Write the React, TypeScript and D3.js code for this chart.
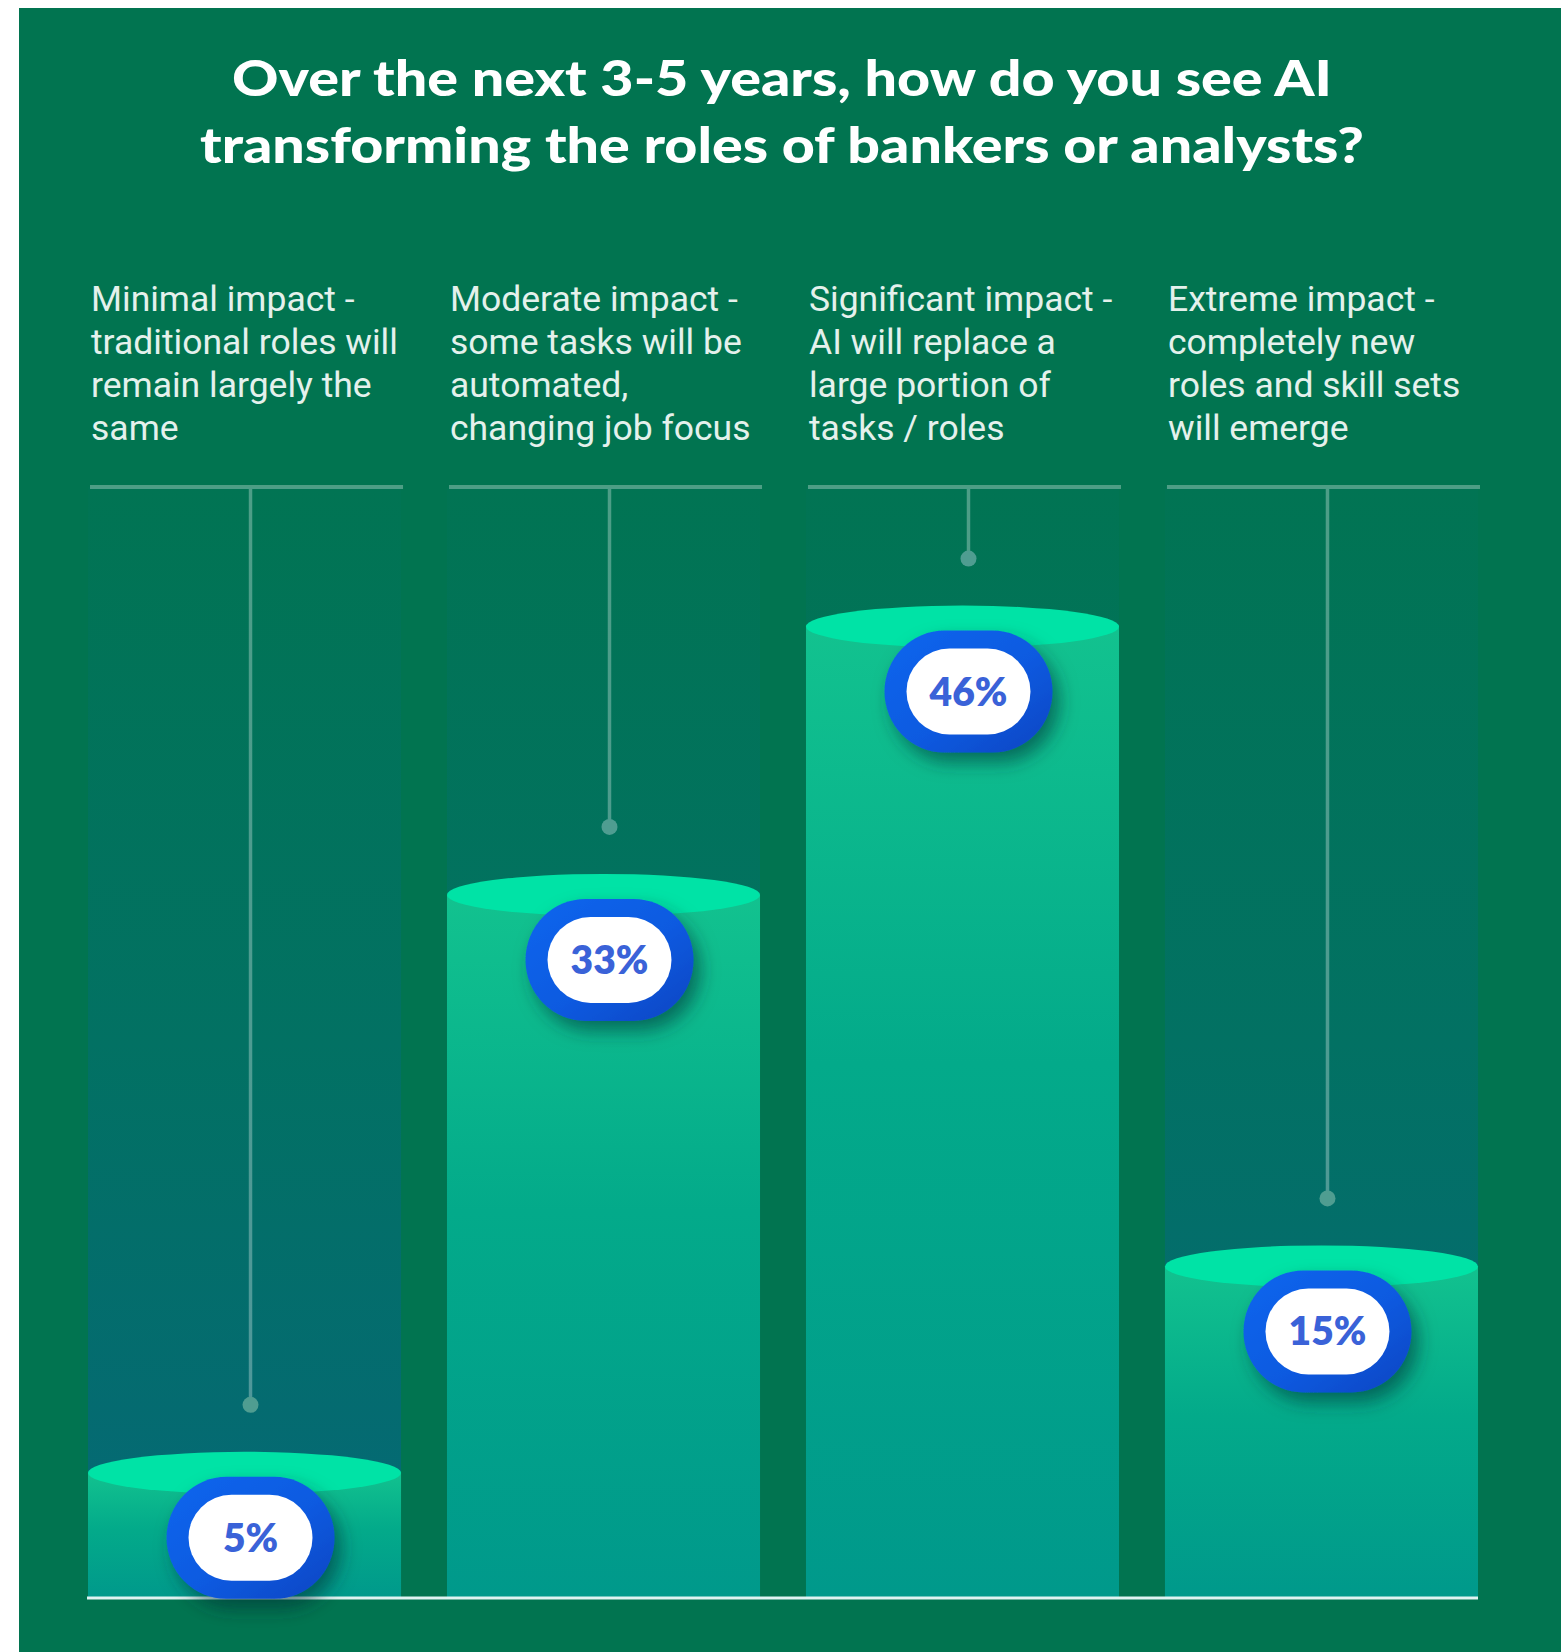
import React from "react";
import * as d3 from "d3";

const titleLines = [
  "Over the next 3-5 years, how do you see AI",
  "transforming the roles of bankers or analysts?",
];
const titleWidths = [1100, 1164];
const categories = ["Minimal impact", "Moderate impact", "Significant impact", "Extreme impact"];
const labelLines = [
  ["Minimal impact -", "traditional roles will", "remain largely the", "same"],
  ["Moderate impact -", "some tasks will be", "automated,", "changing job focus"],
  ["Significant impact -", "AI will replace a", "large portion of", "tasks / roles"],
  ["Extreme impact -", "completely new", "roles and skill sets", "will emerge"],
];
const values = [5, 33, 46, 15];
const valueLabels = values.map((v) => `${v}%`);

const W = 1561;
const H = 1652;
const BASE = 1598;
const DIV_Y = 487;

export default function App() {
  const x = d3.scaleBand<string>().domain(categories).range([88, 1478]).paddingInner(0.128).paddingOuter(0);
  const y = d3.scaleLinear().domain([0, 50]).range([BASE - 22, BASE - 22 - 1032]);
  const bw = x.bandwidth();
  const ry = 21;

  return (
    <svg
      width={W}
      height={H}
      style={{ position: "fixed", left: 0, top: 0, display: "block" }}
      xmlns="http://www.w3.org/2000/svg"
    >
      <defs>
        <linearGradient id="colGrad" x1="0" y1="0" x2="0" y2="1">
          <stop offset="0" stopColor="#017453" />
          <stop offset="0.5" stopColor="#027163" />
          <stop offset="1" stopColor="#056877" />
        </linearGradient>
        <linearGradient id="barGrad" x1="0" y1="0" x2="0" y2="1">
          <stop offset="0" stopColor="#12c28f" />
          <stop offset="0.45" stopColor="#03aa8a" />
          <stop offset="1" stopColor="#00998b" />
        </linearGradient>
        <linearGradient id="blueGrad" x1="0" y1="0" x2="1" y2="1">
          <stop offset="0" stopColor="#1166ee" />
          <stop offset="0.55" stopColor="#0e5ae0" />
          <stop offset="1" stopColor="#0a45c2" />
        </linearGradient>
        <filter id="pillShadow" x="-50%" y="-50%" width="200%" height="200%">
          <feDropShadow dx="7" dy="10" stdDeviation="9" floodColor="#002f35" floodOpacity="0.55" />
        </filter>
      </defs>

      <rect x={0} y={0} width={W} height={H} fill="#ffffff" />
      <rect x={19} y={8} width={W - 19} height={H - 8} fill="#017450" />

      {titleLines.map((t, i) => (
        <text
          key={i}
          x={782}
          y={96 + i * 67}
          textAnchor="middle"
          fill="#ffffff"
          fontFamily="Lato, 'Open Sans', sans-serif"
          fontWeight={900}
          fontSize={50}
          textLength={titleWidths[i]}
          lengthAdjust="spacingAndGlyphs"
        >
          {t}
        </text>
      ))}

      {categories.map((c, i) => {
        const x0 = x(c) as number;
        return (
          <text
            key={c}
            fontFamily="Roboto, 'Noto Sans', sans-serif"
            fontSize={35.5}
            fill="#e4f1ec"
          >
            {labelLines[i].map((l, j) => (
              <tspan key={j} x={x0 + 3} y={311 + j * 43}>
                {l}
              </tspan>
            ))}
          </text>
        );
      })}

      {categories.map((c) => {
        const x0 = x(c) as number;
        return (
          <rect key={c} x={x0} y={DIV_Y} width={bw} height={BASE - DIV_Y} fill="url(#colGrad)" />
        );
      })}

      {categories.map((c, i) => {
        const x0 = x(c) as number;
        const cx = x0 + bw / 2 + 6;
        const top = y(values[i]);
        const dotY = top - ry - 47;
        return (
          <g key={c}>
            <line x1={x0 + 2} x2={x0 + bw + 2} y1={DIV_Y} y2={DIV_Y} stroke="#ffffff" strokeOpacity={0.3} strokeWidth={4} />
            <line x1={cx} x2={cx} y1={DIV_Y + 2} y2={dotY} stroke="#ffffff" strokeOpacity={0.3} strokeWidth={3.5} />
            <circle cx={cx} cy={dotY} r={8} fill="#4f9d91" />
          </g>
        );
      })}

      {categories.map((c, i) => {
        const x0 = x(c) as number;
        const top = y(values[i]);
        return (
          <g key={c}>
            <rect x={x0} y={top} width={bw} height={BASE - top} fill="url(#barGrad)" />
            <ellipse cx={x0 + bw / 2} cy={top} rx={bw / 2} ry={ry} fill="#00e3a6" />
          </g>
        );
      })}

      <line x1={87} x2={1478} y1={BASE} y2={BASE} stroke="#dff3f2" strokeWidth={3} />

      {categories.map((c, i) => {
        const x0 = x(c) as number;
        const cx = x0 + bw / 2 + 6;
        const cy = y(values[i]) + 65;
        return (
          <g key={c} transform={`translate(${cx},${cy})`}>
            <rect x={-84} y={-61} width={168} height={122} rx={60} ry={61} fill="url(#blueGrad)" filter="url(#pillShadow)" />
            <rect x={-62} y={-43} width={124} height={86} rx={43} ry={43} fill="#ffffff" />
            <text
              x={0}
              y={0}
              dy="0.36em"
              textAnchor="middle"
              fill="#3a62d8"
              fontFamily="Lato, 'Open Sans', sans-serif"
              fontWeight={800}
              fontSize={39}
            >
              {valueLabels[i]}
            </text>
          </g>
        );
      })}
    </svg>
  );
}
